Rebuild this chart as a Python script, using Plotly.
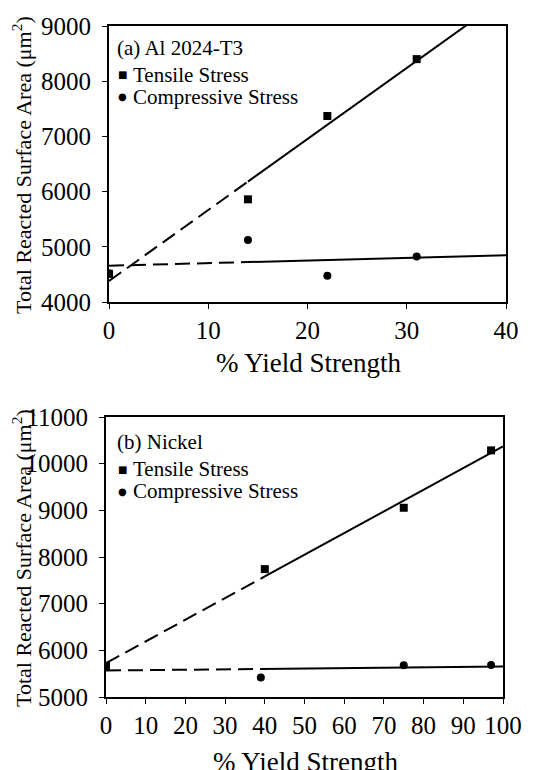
import numpy as np
import plotly.graph_objects as go

# ---------------- data ----------------
al_x = [0, 14, 22, 31]
al_tensile = [4510, 5860, 7370, 8400]
al_compressive = [4520, 5125, 4475, 4825]

ni_tensile_x = [0, 40, 75, 97]
ni_tensile = [5670, 7740, 9055, 10285]
ni_compressive_x = [0, 39, 75, 97]
ni_compressive = [5665, 5420, 5678, 5686]

al_xticks = [0, 10, 20, 30, 40]
al_yticks = [4000, 5000, 6000, 7000, 8000, 9000]
ni_xticks = [0, 10, 20, 30, 40, 50, 60, 70, 80, 90, 100]
ni_yticks = [5000, 6000, 7000, 8000, 9000, 10000, 11000]

series_names = ["Tensile Stress", "Compressive Stress"]
panel_labels = ["(a) Al 2024-T3", "(b) Nickel"]

W, H = 543, 770
FONT = "Liberation Serif, Times New Roman, serif"

fig = go.Figure()


def add_fit(x, y, xmax, xa, ya):
    slope, intercept = np.polyfit(x, y, 1)
    xs_dash = [x[0], x[1]]
    xs_solid = [x[1], xmax]
    fig.add_trace(go.Scatter(
        x=xs_dash, y=[intercept + slope * v for v in xs_dash],
        mode="lines", line=dict(color="black", width=2, dash="15px,7px"),
        showlegend=False, hoverinfo="skip", xaxis=xa, yaxis=ya))
    fig.add_trace(go.Scatter(
        x=xs_solid, y=[intercept + slope * v for v in xs_solid],
        mode="lines", line=dict(color="black", width=2),
        showlegend=False, hoverinfo="skip", xaxis=xa, yaxis=ya))


# panel (a)
add_fit(al_x, al_tensile, 40, "x", "y")
add_fit(al_x, al_compressive, 40, "x", "y")
fig.add_trace(go.Scatter(x=al_x, y=al_tensile, mode="markers", name=series_names[0],
                         marker=dict(symbol="square", size=8, color="black"),
                         xaxis="x", yaxis="y", showlegend=False))
fig.add_trace(go.Scatter(x=al_x, y=al_compressive, mode="markers", name=series_names[1],
                         marker=dict(symbol="circle", size=8, color="black"),
                         xaxis="x", yaxis="y", showlegend=False))

# panel (b)
add_fit(ni_tensile_x, ni_tensile, 100, "x2", "y2")
add_fit(ni_compressive_x, ni_compressive, 100, "x2", "y2")
fig.add_trace(go.Scatter(x=ni_tensile_x, y=ni_tensile, mode="markers", name=series_names[0],
                         marker=dict(symbol="square", size=8, color="black"),
                         xaxis="x2", yaxis="y2", showlegend=False))
fig.add_trace(go.Scatter(x=ni_compressive_x, y=ni_compressive, mode="markers", name=series_names[1],
                         marker=dict(symbol="circle", size=8, color="black"),
                         xaxis="x2", yaxis="y2", showlegend=False))

tickfont = dict(family=FONT, size=25, color="black")
common = dict(showline=True, linecolor="black", linewidth=1.5, mirror=True,
              ticks="outside", ticklen=5, tickwidth=1, tickcolor="black",
              showgrid=False, zeroline=False, tickfont=tickfont, automargin=False)


def px(xp):
    return xp / W


def py(yp):
    return 1 - yp / H


NB = "\u00a0"
fig.update_layout(
    width=W, height=H,
    margin=dict(l=0, r=0, t=0, b=0),
    paper_bgcolor="white", plot_bgcolor="white",
    font=dict(family=FONT, color="black"),
    showlegend=False,
    xaxis=dict(domain=[px(101), px(498)], range=[0, 40], tickvals=al_xticks,
               ticktext=[str(v) for v in al_xticks],
               anchor="y", **common),
    yaxis=dict(domain=[py(294), py(18)], range=[4000, 9000], tickvals=al_yticks,
               ticktext=[str(v) + NB for v in al_yticks],
               anchor="x", **common),
    xaxis2=dict(domain=[px(98), px(495)], range=[0, 100], tickvals=ni_xticks,
                ticktext=[str(v) for v in ni_xticks],
                anchor="y2", **common),
    yaxis2=dict(domain=[py(689), py(409)], range=[5000, 11000], tickvals=ni_yticks,
                ticktext=[str(v) + NB for v in ni_yticks],
                anchor="x2", **common),
)

ann_font = dict(family=FONT, size=21, color="black")
leg_font = dict(family=FONT, size=21, color="black")
title_font = dict(family=FONT, size=27, color="black")
ytitle_font = dict(family=FONT, size=22, color="black")
sym_font = dict(family="DejaVu Sans", size=10, color="black")


def ann(text, x, y, font, xanchor="left", angle=0):
    fig.add_annotation(text=text, x=px(x), y=py(y), xref="paper", yref="paper",
                       xanchor=xanchor, yanchor="middle", showarrow=False, font=font,
                       textangle=angle)


# panel labels and legends
for lbl, y0 in zip(panel_labels, [40, 434]):
    ann(lbl, 107, y0, ann_font)
    ann("\u25a0", 114, y0 + 27, sym_font, xanchor="center")
    ann(series_names[0], 123, y0 + 27, leg_font)
    ann("\u25cf", 114, y0 + 49, sym_font, xanchor="center")
    ann(series_names[1], 123, y0 + 49, leg_font)

ytitle = "Total Reacted Surface Area (\u03bcm<sup>2</sup>)"
ann(ytitle, 14, 157, ytitle_font, xanchor="center", angle=-90)
ann(ytitle, 14, 550, ytitle_font, xanchor="center", angle=-90)
ann("% Yield Strength", 300, 355, title_font, xanchor="center")
ann("% Yield Strength", 297, 754, title_font, xanchor="center")

fig.write_html("out.html")
